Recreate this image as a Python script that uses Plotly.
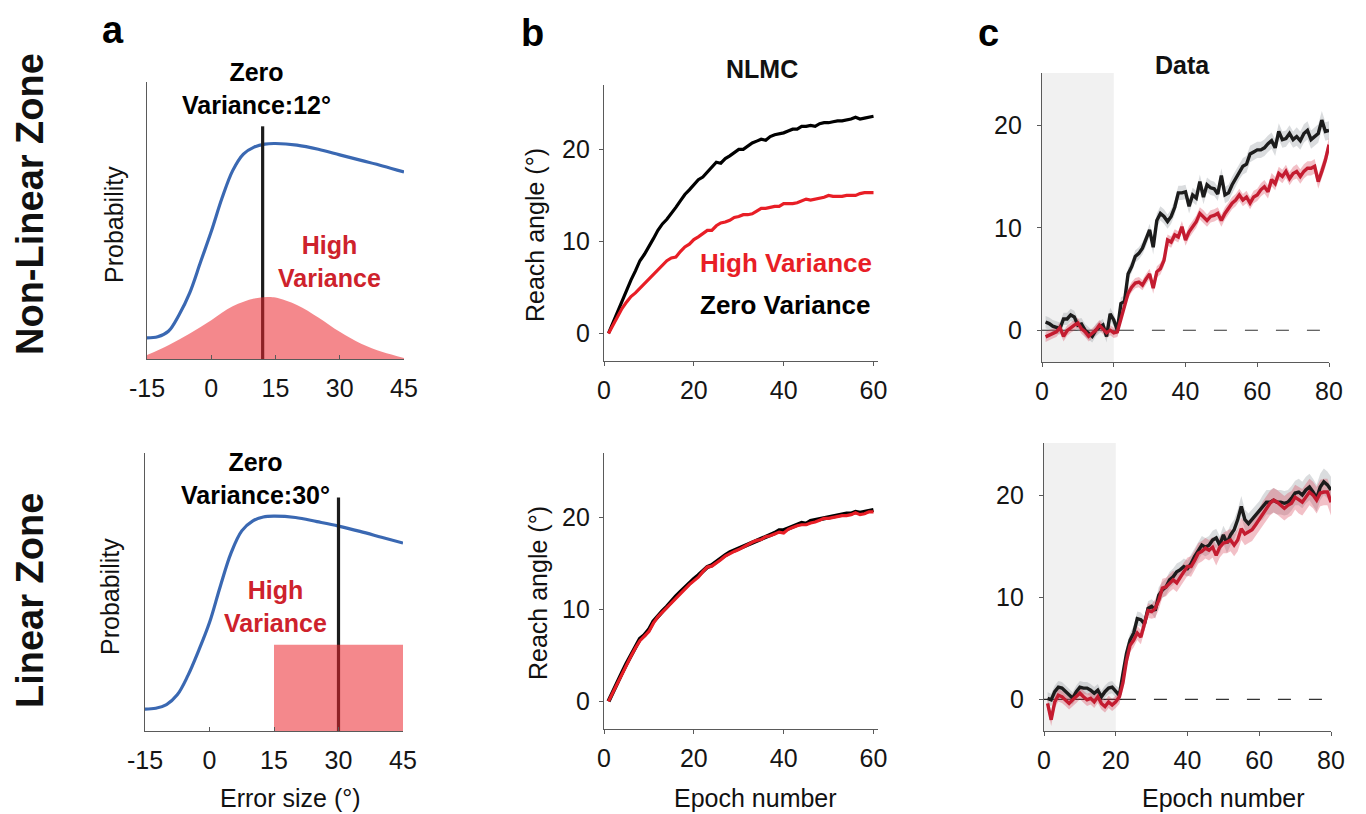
import plotly.graph_objects as go
import numpy as np

W, H = 1366, 814
FONT = "Liberation Sans, Arial, Helvetica, sans-serif"

# ---------------- Panel a data ----------------
err_x = [-15, -12.5, -10, -7.5, -5, -2.5, 0, 2.5, 5, 7.5, 10, 12.5, 15, 20, 25, 30, 35, 40, 45]
sens_top = [0.076, 0.08, 0.10, 0.16, 0.24, 0.35, 0.46, 0.58, 0.68, 0.74, 0.765, 0.776, 0.778,
            0.772, 0.757, 0.737, 0.717, 0.697, 0.675]
sens_bot = [0.079, 0.082, 0.095, 0.13, 0.20, 0.29, 0.39, 0.52, 0.64, 0.72, 0.755, 0.77, 0.773,
            0.768, 0.753, 0.737, 0.718, 0.697, 0.676]
gauss_x = [-15, -10, -5, 0, 5, 10, 13, 15, 20, 25, 30, 35, 40, 45]
gauss_y = [0.014, 0.05, 0.092, 0.14, 0.19, 0.218, 0.224, 0.222, 0.195, 0.15, 0.098, 0.055, 0.025, 0.004]
zero_var_top = 12
zero_var_bot = 30
vline_height = 0.84
uniform_lo, uniform_hi, uniform_height = 15, 45, 0.31
a_ticks = [-15, 0, 15, 30, 45]
a_ticktext = ["-15", "0", "15", "30", "45"]

# ---------------- Panel b data (NLMC) ----------------
b_epochs = list(range(1, 61))
b_top_zero = [0.0, 1.2, 2.4, 3.6, 4.8, 5.8, 6.8, 7.9, 8.6, 9.4,
              10.3, 11.2, 11.9, 12.4, 13.0, 13.7, 14.4, 15.1, 15.6, 16.1,
              16.7, 17.0, 17.5, 18.0, 18.6, 18.5, 19.0, 19.3, 19.7, 20.0,
              20.0, 20.4, 20.7, 20.9, 21.1, 21.0, 21.4, 21.6, 21.7, 21.8,
              22.0, 22.2, 22.2, 22.5, 22.5, 22.6, 22.5, 22.8, 22.9, 22.9,
              23.0, 23.1, 23.1, 23.2, 23.3, 23.5, 23.3, 23.4, 23.5, 23.6]
b_top_high = [0.0, 0.9, 1.9, 2.7, 3.4, 4.0, 4.4, 4.9, 5.4, 5.9,
              6.4, 6.9, 7.5, 7.9, 8.2, 8.3, 8.9, 9.4, 9.7, 10.2,
              10.5, 10.8, 11.2, 11.2, 11.7, 12.0, 12.1, 12.3, 12.6, 12.7,
              12.9, 12.9, 13.0, 13.3, 13.6, 13.6, 13.7, 13.8, 13.8, 14.1,
              14.1, 14.1, 14.2, 14.4, 14.6, 14.5, 14.6, 14.7, 14.8, 15.0,
              14.9, 14.9, 14.9, 15.0, 15.0, 15.0, 15.2, 15.3, 15.3, 15.3]
b_bot_zero = [0.0, 1.1, 2.1, 3.1, 4.1, 5.0, 5.9, 6.8, 7.2, 7.8,
              8.7, 9.3, 9.8, 10.3, 10.9, 11.4, 11.9, 12.4, 12.8, 13.3,
              13.7, 14.2, 14.6, 14.8, 15.2, 15.5, 15.9, 16.2, 16.4, 16.6,
              16.8, 17.1, 17.3, 17.5, 17.7, 17.9, 18.1, 18.3, 18.6, 18.6,
              18.8, 19.0, 19.2, 19.4, 19.3, 19.6, 19.7, 19.8, 20.0, 20.1,
              20.2, 20.3, 20.3, 20.4, 20.4, 20.6, 20.5, 20.6, 20.8, 20.8]
b_bot_high = [0.0, 1.0, 2.0, 3.0, 4.0, 4.9, 5.8, 6.6, 7.1, 7.6,
              8.5, 9.2, 9.7, 10.2, 10.8, 11.3, 11.8, 12.3, 12.7, 13.1,
              13.5, 14.1, 14.6, 14.7, 15.0, 15.4, 15.8, 16.1, 16.3, 16.5,
              16.8, 17.1, 17.3, 17.5, 17.6, 17.9, 18.0, 18.2, 18.4, 18.3,
              18.7, 18.9, 19.1, 19.2, 19.2, 19.4, 19.5, 19.7, 19.9, 19.9,
              20.0, 20.1, 20.2, 20.2, 20.3, 20.5, 20.3, 20.4, 20.6, 20.6]
b_xticks = [0, 20, 40, 60]
b_yticks = [0, 10, 20]

# ---------------- Panel c data (human data) ----------------
c_epochs = list(range(1, 81))
c_top_zero = [0.8, 0.65, 0.4, 0.3, 0.15, 1.1, 1.1, 1.5, 1.3, 0.5,
              0.6, 0.0, -0.3, -0.6, 0.0, 0.3, 0.5, -0.6, 1.6, 1.0,
              0.0, 2.6, 2.8, 5.5, 6.2, 7.2, 7.5, 8.0, 8.8, 9.8,
              8.1, 10.7, 11.4, 11.1, 10.6, 11.1, 12.0, 13.4, 13.4, 13.5,
              12.1, 13.2, 12.9, 14.5, 13.0, 14.2, 13.9, 13.8, 13.3, 15.1,
              13.2, 13.4, 14.2, 14.8, 15.5, 16.0, 16.2, 17.2, 17.4, 17.6,
              17.6, 17.8, 18.2, 18.5, 17.8, 19.4, 18.6, 18.7, 19.2, 18.6,
              18.9, 18.5, 19.2, 19.5, 18.6, 18.9, 19.2, 20.5, 19.4, 19.5]
c_top_high = [-0.65, -0.5, -0.3, -0.15, 0.25, -0.6, -0.05, 0.25, 0.5, 0.7,
              0.15, -0.15, -0.6, -0.3, 0.0, 0.5, 0.15, -0.25, 0.0, -0.25,
              -0.15, 1.1, 2.6, 3.6, 4.2, 4.6, 4.7, 4.4, 5.0, 5.5,
              4.1, 5.7, 6.0, 6.8, 8.8, 8.6, 9.3, 9.1, 10.1, 8.8,
              9.6, 10.1, 10.6, 11.4, 11.1, 10.7, 11.1, 11.2, 11.4, 10.7,
              11.4, 11.9, 12.4, 12.7, 13.2, 12.7, 13.0, 12.4, 13.0, 13.2,
              13.7, 14.0, 13.5, 14.7, 14.3, 15.3, 15.0, 15.5, 14.8, 15.3,
              15.5, 15.0, 15.5, 15.8, 15.8, 16.0, 14.5, 15.5, 16.6, 18.1]
c_bot_zero = [0.1, -0.05, 0.75, 1.2, 1.1, 0.75, 0.4, 0.1, 0.75, 1.2,
              1.1, 1.1, 0.9, 0.6, 0.9, 0.25, 0.75, 1.1, 1.2, 0.75,
              0.4, 2.5, 4.5, 5.8, 6.5, 7.9, 7.8, 7.4, 8.9, 9.1,
              8.7, 10.2, 10.7, 11.0, 11.7, 12.0, 12.5, 12.7, 13.0, 12.8,
              13.3, 14.0, 14.5, 15.1, 14.9, 15.1, 15.6, 15.8, 15.1, 16.1,
              15.3, 16.1, 16.6, 17.6, 18.9, 17.6, 17.2, 17.6, 18.0, 18.4,
              18.8, 19.3, 19.3, 19.5, 19.3, 19.3, 19.2, 19.3, 19.7, 20.2,
              20.3, 20.0, 20.5, 20.8, 20.3, 19.7, 20.8, 21.3, 21.0, 20.5]
c_bot_high = [-0.4, -2.0, -0.25, 0.4, 0.25, -0.05, -0.4, -0.05, 0.25, 0.6,
              0.25, -0.05, 0.1, -0.25, 0.25, -0.4, -0.7, -0.25, -0.55, -0.25,
              0.25, 1.6, 3.8, 5.3, 5.8, 6.5, 6.1, 7.4, 8.7, 8.6,
              8.9, 9.7, 10.9, 11.0, 11.4, 11.7, 11.4, 12.0, 12.5, 13.0,
              13.0, 13.6, 14.3, 14.5, 14.8, 14.6, 14.9, 14.1, 14.9, 15.3,
              15.4, 15.6, 15.1, 15.6, 16.7, 16.2, 16.4, 16.6, 17.1, 17.6,
              18.2, 18.7, 19.2, 19.5, 19.3, 19.0, 18.7, 19.0, 19.2, 19.8,
              19.5, 19.3, 19.8, 20.3, 20.0, 19.5, 20.2, 20.3, 20.3, 19.3]
# standard error, one value per block of 10 epochs
c_top_zero_sem = [0.6, 0.6, 0.6, 0.7, 0.7, 0.8, 0.8, 0.9]
c_top_high_sem = [0.5, 0.5, 0.5, 0.55, 0.6, 0.6, 0.65, 0.7]
c_bot_zero_sem = [0.6, 0.6, 0.7, 0.8, 0.9, 1.0, 1.2, 1.3]
c_bot_high_sem = [0.6, 0.6, 0.7, 0.9, 1.0, 1.1, 1.2, 1.3]
baseline_end = 20
c_xticks = [0, 20, 40, 60, 80]
c_yticks = [0, 10, 20]

# ---------------- Styles ----------------
BLUE = "rgb(58,104,178)"
BLACK = "#1c1c1c"
PINK_FILL = "rgba(235,39,46,0.55)"
RED_B = "rgb(232,30,38)"
RED_C = "rgb(196,28,48)"
RED_TXT = "rgb(206,34,44)"
AXC = "#5a5a5a"


def dom_x(a, b):
    return [a / W, b / W]


def dom_y(top, bottom):
    return [1 - bottom / H, 1 - top / H]


def PX(v):
    return v / W


def PY(v):
    return 1 - v / H


fig = go.Figure()

# ---- a top ----
fig.add_trace(go.Scatter(x=err_x, y=sens_top, mode="lines", line=dict(color=BLUE, width=3.2, shape="spline"),
                         xaxis="x", yaxis="y", hoverinfo="skip"))
fig.add_trace(go.Scatter(x=[zero_var_top, zero_var_top], y=[0, vline_height], mode="lines",
                         line=dict(color=BLACK, width=3.2), xaxis="x", yaxis="y", hoverinfo="skip"))
fig.add_trace(go.Scatter(x=gauss_x, y=gauss_y, mode="lines", fill="tozeroy", fillcolor=PINK_FILL,
                         line=dict(width=0, shape="spline", color=PINK_FILL), xaxis="x", yaxis="y", hoverinfo="skip"))

# ---- a bottom ----
fig.add_trace(go.Scatter(x=err_x, y=sens_bot, mode="lines", line=dict(color=BLUE, width=3.2, shape="spline"),
                         xaxis="x2", yaxis="y2", hoverinfo="skip"))
fig.add_trace(go.Scatter(x=[zero_var_bot, zero_var_bot], y=[0, vline_height], mode="lines",
                         line=dict(color=BLACK, width=3.2), xaxis="x2", yaxis="y2", hoverinfo="skip"))
fig.add_trace(go.Scatter(x=[uniform_lo, uniform_lo, uniform_hi, uniform_hi],
                         y=[0, uniform_height, uniform_height, 0], mode="lines", fill="toself",
                         fillcolor=PINK_FILL, line=dict(width=0, color=PINK_FILL),
                         xaxis="x2", yaxis="y2", hoverinfo="skip"))

# ---- b ----
fig.add_trace(go.Scatter(x=b_epochs, y=b_top_zero, mode="lines", line=dict(color="black", width=3.2),
                         xaxis="x3", yaxis="y3", hoverinfo="skip"))
fig.add_trace(go.Scatter(x=b_epochs, y=b_top_high, mode="lines", line=dict(color=RED_B, width=3.2),
                         xaxis="x3", yaxis="y3", hoverinfo="skip"))
fig.add_trace(go.Scatter(x=b_epochs, y=b_bot_zero, mode="lines", line=dict(color="black", width=4.2),
                         xaxis="x4", yaxis="y4", hoverinfo="skip"))
fig.add_trace(go.Scatter(x=b_epochs, y=b_bot_high, mode="lines", line=dict(color=RED_B, width=3.2),
                         xaxis="x4", yaxis="y4", hoverinfo="skip"))


# ---- c ----
def add_c(xa, ya, zero, high, zsem, hsem):
    ep = np.array(c_epochs)
    fig.add_trace(go.Scatter(x=[0, 22], y=[0, 0], mode="lines", line=dict(color="#222", width=1.2),
                             xaxis=xa, yaxis=ya, hoverinfo="skip"))
    fig.add_trace(go.Scatter(x=[22, 80], y=[0, 0], mode="lines",
                             line=dict(color="#333", width=1.2, dash="13px,18px"),
                             xaxis=xa, yaxis=ya, hoverinfo="skip"))
    for m, s, fc in [(zero, zsem, "rgba(150,155,160,0.35)"), (high, hsem, "rgba(215,60,80,0.32)")]:
        m = np.array(m)
        s = np.repeat(s, 10)
        fig.add_trace(go.Scatter(x=list(ep) + list(ep[::-1]), y=list(m + s) + list((m - s)[::-1]),
                                 mode="lines", fill="toself", fillcolor=fc, line=dict(width=0, color=fc),
                                 xaxis=xa, yaxis=ya, hoverinfo="skip"))
    fig.add_trace(go.Scatter(x=c_epochs, y=zero, mode="lines", line=dict(color=BLACK, width=3.4),
                             xaxis=xa, yaxis=ya, hoverinfo="skip"))
    fig.add_trace(go.Scatter(x=c_epochs, y=high, mode="lines", line=dict(color=RED_C, width=3.4),
                             xaxis=xa, yaxis=ya, hoverinfo="skip"))


add_c("x5", "y5", c_top_zero, c_top_high, c_top_zero_sem, c_top_high_sem)
add_c("x6", "y6", c_bot_zero, c_bot_high, c_bot_zero_sem, c_bot_high_sem)

tickfont = dict(family=FONT, size=25, color="#151515")
base = dict(showgrid=False, zeroline=False, showline=True, linecolor=AXC, linewidth=1.2,
            ticks="outside", ticklen=4, tickcolor=AXC, tickfont=tickfont, fixedrange=True,
            automargin=False)

layout_axes = {}
# a axes
for i, (xd, yd) in enumerate([((147, 404), (82, 359)), ((145, 403), (453, 731))], start=1):
    sx = "" if i == 1 else str(i)
    layout_axes["xaxis" + sx] = dict(base, domain=dom_x(*xd), range=[-15, 45], anchor="y" + sx,
                                     tickvals=a_ticks, ticktext=a_ticktext, ticks="inside",
                                     ticklabelstandoff=7)
    layout_axes["yaxis" + sx] = dict(base, domain=dom_y(*yd), range=[0, 1], anchor="x" + sx,
                                     showticklabels=False, ticks="")
# b axes
for i, (xd, yd) in zip([3, 4], [((604, 878), (85, 361)), ((604, 878), (453, 729))]):
    layout_axes["xaxis%d" % i] = dict(base, domain=dom_x(*xd), range=[0, 61], anchor="y%d" % i,
                                      tickvals=b_xticks, ticklabelstandoff=3)
    layout_axes["yaxis%d" % i] = dict(base, domain=dom_y(*yd), range=[-3, 27], anchor="x%d" % i,
                                      tickvals=b_yticks, ticklabelstandoff=4)
# c axes
for i, (xd, yd) in zip([5, 6], [((1042, 1329), (73, 362)), ((1044, 1331), (443, 731))]):
    layout_axes["xaxis%d" % i] = dict(base, domain=dom_x(*xd), range=[0, 80], anchor="y%d" % i,
                                      tickvals=c_xticks, ticklabelstandoff=3)
    layout_axes["yaxis%d" % i] = dict(base, domain=dom_y(*yd), range=[-3.1, 25.1], anchor="x%d" % i,
                                      tickvals=c_yticks, ticklabelstandoff=10)

shapes = []
for i in [5, 6]:
    shapes.append(dict(type="rect", xref="x%d" % i, yref="y%d domain" % i, x0=0, x1=baseline_end,
                       y0=0, y1=1, fillcolor="#f1f1f1", line=dict(width=0), layer="below"))


def ann(text, x, y, size=24, color="#111", bold=False, angle=0):
    t = "<b>%s</b>" % text if bold else text
    return dict(text=t, x=PX(x), y=PY(y), xref="paper", yref="paper", showarrow=False,
                xanchor="center", yanchor="middle", textangle=angle,
                font=dict(family=FONT, size=size, color=color))


annotations = [
    ann("a", 113, 30, 38, "#000", True),
    ann("b", 532, 33, 38, "#000", True),
    ann("c", 988, 33, 38, "#000", True),
    ann("Non-Linear Zone", 30, 204, 38, "#111", True, -90),
    ann("Linear Zone", 30, 601, 38, "#111", True, -90),
    ann("Zero<br>Variance:12°", 256, 88, 25, "#000", True),
    ann("Zero<br>Variance:30°", 255, 478, 25, "#000", True),
    ann("High<br>Variance", 329, 261, 25, RED_TXT, True),
    ann("High<br>Variance", 275, 606, 25, RED_TXT, True),
    ann("Probability", 114, 225, 25, "#111", False, -90),
    ann("Probability", 110, 597, 25, "#111", False, -90),
    ann("Error size (°)", 290, 798, 25, "#111"),
    ann("NLMC", 762, 69, 25, "#111", True),
    ann("High Variance", 786, 263, 26, RED_B, True),
    ann("Zero Variance", 785, 305, 26, "#000", True),
    ann("Reach angle (°)", 535, 235, 25, "#111", False, -90),
    ann("Reach angle (°)", 538, 593, 25, "#111", False, -90),
    ann("Epoch number", 755, 798, 25, "#111"),
    ann("Data", 1182, 65, 25, "#111", True),
    ann("Epoch number", 1223, 798, 25, "#111"),
]

fig.update_layout(width=W, height=H, margin=dict(l=0, r=0, t=0, b=0, autoexpand=False),
                  paper_bgcolor="white", plot_bgcolor="white", showlegend=False,
                  font=dict(family=FONT), shapes=shapes, annotations=annotations, **layout_axes)

fig.write_html("out.html", config={"displayModeBar": False},
               post_script="document.body.style.margin='0';document.body.style.overflow='hidden';")
